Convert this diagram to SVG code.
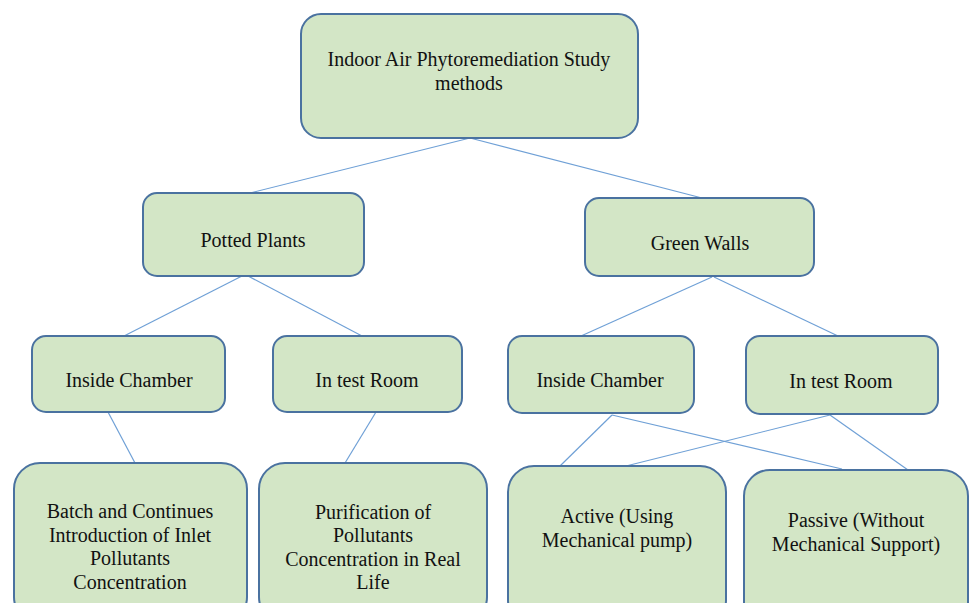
<svg xmlns="http://www.w3.org/2000/svg" width="970" height="603" viewBox="0 0 970 603">
<style>
.box{fill:#d3e6c6;stroke:#4a72a0;stroke-width:2}
.t{font-family:"Liberation Serif","Times New Roman",serif;font-size:20px;fill:#111;text-anchor:middle}
.c line{stroke:#6fa0d6;stroke-width:1.2}
</style>
<rect width="970" height="603" fill="#fff"/>
<g class="c" id="connectors">
<line x1="470" y1="138" x2="250" y2="193"/>
<line x1="470" y1="138" x2="702" y2="198"/>
<line x1="242" y1="276" x2="124" y2="336"/>
<line x1="248" y1="276" x2="362" y2="336"/>
<line x1="712" y1="277" x2="581" y2="336"/>
<line x1="714" y1="277" x2="838" y2="336"/>
<line x1="108" y1="412" x2="135" y2="463"/>
<line x1="376" y1="412" x2="345" y2="463"/>
<line x1="612" y1="415" x2="560" y2="466"/>
<line x1="612" y1="415" x2="842" y2="469"/>
<line x1="830" y1="415" x2="626" y2="466"/>
<line x1="830" y1="415" x2="908" y2="470"/>
</g>
<g id="root"><rect class="box" x="301" y="14" width="337" height="124" rx="20"/>
<text class="t" x="469" y="66">Indoor Air Phytoremediation Study</text>
<text class="t" x="469" y="90">methods</text></g>
<g id="potted"><rect class="box" x="143" y="193" width="221" height="83" rx="14"/>
<text class="t" x="253" y="247">Potted Plants</text></g>
<g id="green"><rect class="box" x="585" y="198" width="229" height="78" rx="14"/>
<text class="t" x="700" y="250">Green Walls</text></g>
<g id="pp-chamber"><rect class="box" x="32" y="336" width="193" height="76" rx="14"/>
<text class="t" x="129" y="387">Inside Chamber</text></g>
<g id="pp-room"><rect class="box" x="273" y="336" width="189" height="76" rx="14"/>
<text class="t" x="367" y="387">In test Room</text></g>
<g id="gw-chamber"><rect class="box" x="508" y="336" width="186" height="77" rx="14"/>
<text class="t" x="600" y="387">Inside Chamber</text></g>
<g id="gw-room"><rect class="box" x="746" y="336" width="192" height="78" rx="14"/>
<text class="t" x="841" y="388">In test Room</text></g>
<g id="batch"><rect class="box" x="14" y="463" width="233" height="160" rx="26"/>
<text class="t" x="130" y="518">Batch and Continues</text>
<text class="t" x="130" y="542">Introduction of Inlet</text>
<text class="t" x="130" y="565">Pollutants</text>
<text class="t" x="130" y="589">Concentration</text></g>
<g id="purif"><rect class="box" x="259" y="463" width="228" height="160" rx="26"/>
<text class="t" x="373" y="519">Purification of</text>
<text class="t" x="373" y="542">Pollutants</text>
<text class="t" x="373" y="566">Concentration in Real</text>
<text class="t" x="373" y="589">Life</text></g>
<g id="active"><rect class="box" x="508" y="466" width="218" height="160" rx="26"/>
<text class="t" x="617" y="523">Active (Using</text>
<text class="t" x="617" y="547">Mechanical pump)</text></g>
<g id="passive"><rect class="box" x="744" y="470" width="224" height="160" rx="26"/>
<text class="t" x="856" y="527">Passive (Without</text>
<text class="t" x="856" y="551">Mechanical Support)</text></g>
</svg>
